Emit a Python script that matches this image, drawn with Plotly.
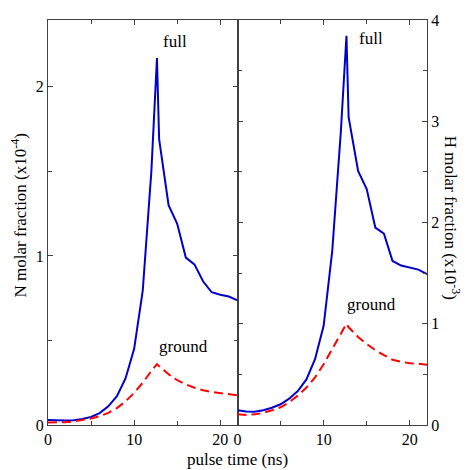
import plotly.graph_objects as go

# time grid (ns)
t = [0, 1, 2, 3, 4, 5, 6, 7, 8, 9, 10, 11, 12, 12.65, 12.9, 14, 15, 16, 17, 18, 19, 20, 21, 22]

# N molar fraction (x1e-4)
n_full = [0.030, 0.027, 0.026, 0.028, 0.035, 0.048, 0.070, 0.110, 0.170, 0.275, 0.450, 0.795,
          1.50, 2.17, 1.69, 1.30, 1.19, 0.99, 0.95, 0.85, 0.785, 0.770, 0.760, 0.737]
n_ground = [0.015, 0.014, 0.016, 0.021, 0.028, 0.038, 0.052, 0.072, 0.100, 0.140, 0.190, 0.250,
            0.320, 0.360, 0.348, 0.300, 0.265, 0.240, 0.220, 0.205, 0.195, 0.188, 0.182, 0.176]

# H molar fraction (x1e-3)
h_full = [0.146, 0.133, 0.130, 0.145, 0.170, 0.205, 0.260, 0.335, 0.450, 0.650, 0.980, 1.72,
          2.90, 3.845, 3.04, 2.51, 2.33, 1.95, 1.89, 1.62, 1.575, 1.555, 1.535, 1.49]
h_ground = [0.105, 0.100, 0.105, 0.120, 0.145, 0.175, 0.225, 0.290, 0.370, 0.470, 0.600, 0.750,
            0.900, 1.000, 0.965, 0.870, 0.800, 0.740, 0.690, 0.645, 0.625, 0.610, 0.605, 0.595]

FONT = "Liberation Serif"
AX = "#404040"
BLUE = "#0000cd"
RED = "#ff0000"
DASH = "9px,5px"

fig = go.Figure()
fig.add_trace(go.Scatter(x=t, y=n_full, mode="lines", line=dict(color=BLUE, width=2), xaxis="x", yaxis="y"))
fig.add_trace(go.Scatter(x=t, y=n_ground, mode="lines", line=dict(color=RED, width=2, dash=DASH), xaxis="x", yaxis="y"))
fig.add_trace(go.Scatter(x=t, y=h_full, mode="lines", line=dict(color=BLUE, width=2), xaxis="x2", yaxis="y2"))
fig.add_trace(go.Scatter(x=t, y=h_ground, mode="lines", line=dict(color=RED, width=2, dash=DASH), xaxis="x2", yaxis="y2"))

common = dict(showline=True, linecolor=AX, linewidth=1, mirror="ticks", ticks="inside",
              ticklen=5, tickcolor=AX, showgrid=False, zeroline=False,
              tickfont=dict(family=FONT, size=16, color="black"))

xcommon = dict(common, range=[0, 22], tickvals=[0, 10, 20],
               minor=dict(tickvals=[5, 15], ticks="inside", ticklen=4, tickcolor=AX))

fig.update_layout(
    width=465, height=470,
    margin=dict(l=48, r=38, t=13, b=45),
    paper_bgcolor="white", plot_bgcolor="white",
    showlegend=False,
    xaxis=dict(xcommon, domain=[0, 0.5], anchor="y"),
    xaxis2=dict(xcommon, domain=[0.5, 1], anchor="y2"),
    yaxis=dict(common, range=[0, 2.395], tickvals=[0, 1, 2], anchor="x",
               minor=dict(tickvals=[0.5, 1.5], ticks="inside", ticklen=4, tickcolor=AX)),
    yaxis2=dict(common, range=[0, 4.0], tickvals=[0, 1, 2, 3, 4], anchor="x2", side="right",
                minor=dict(tickvals=[0.5, 1.5, 2.5, 3.5], ticks="inside", ticklen=4, tickcolor=AX)),
)

tf = dict(family=FONT, size=17, color="black")
fig.add_annotation(x=14.7, y=2.27, xref="x", yref="y", text="full", showarrow=False, font=tf)
fig.add_annotation(x=15.7, y=0.465, xref="x", yref="y", text="ground", showarrow=False, font=tf)
fig.add_annotation(x=15.5, y=3.82, xref="x2", yref="y2", text="full", showarrow=False, font=tf)
fig.add_annotation(x=15.5, y=1.19, xref="x2", yref="y2", text="ground", showarrow=False, font=tf)

fig.add_annotation(x=0.5, y=-0.085, xref="paper", yref="paper", text="pulse time (ns)",
                   showarrow=False, font=tf, yanchor="middle")
fig.add_annotation(x=-0.077, y=0.517, xref="paper", yref="paper",
                   text="N molar fraction (x10<sup>-4</sup>)", textangle=-90,
                   showarrow=False, font=tf, xanchor="center", yanchor="middle")
fig.add_annotation(x=1.066, y=0.512, xref="paper", yref="paper",
                   text="H molar fraction (x10<sup>-3</sup>)", textangle=90,
                   showarrow=False, font=tf, xanchor="center", yanchor="middle")

fig.write_html("out.html")
